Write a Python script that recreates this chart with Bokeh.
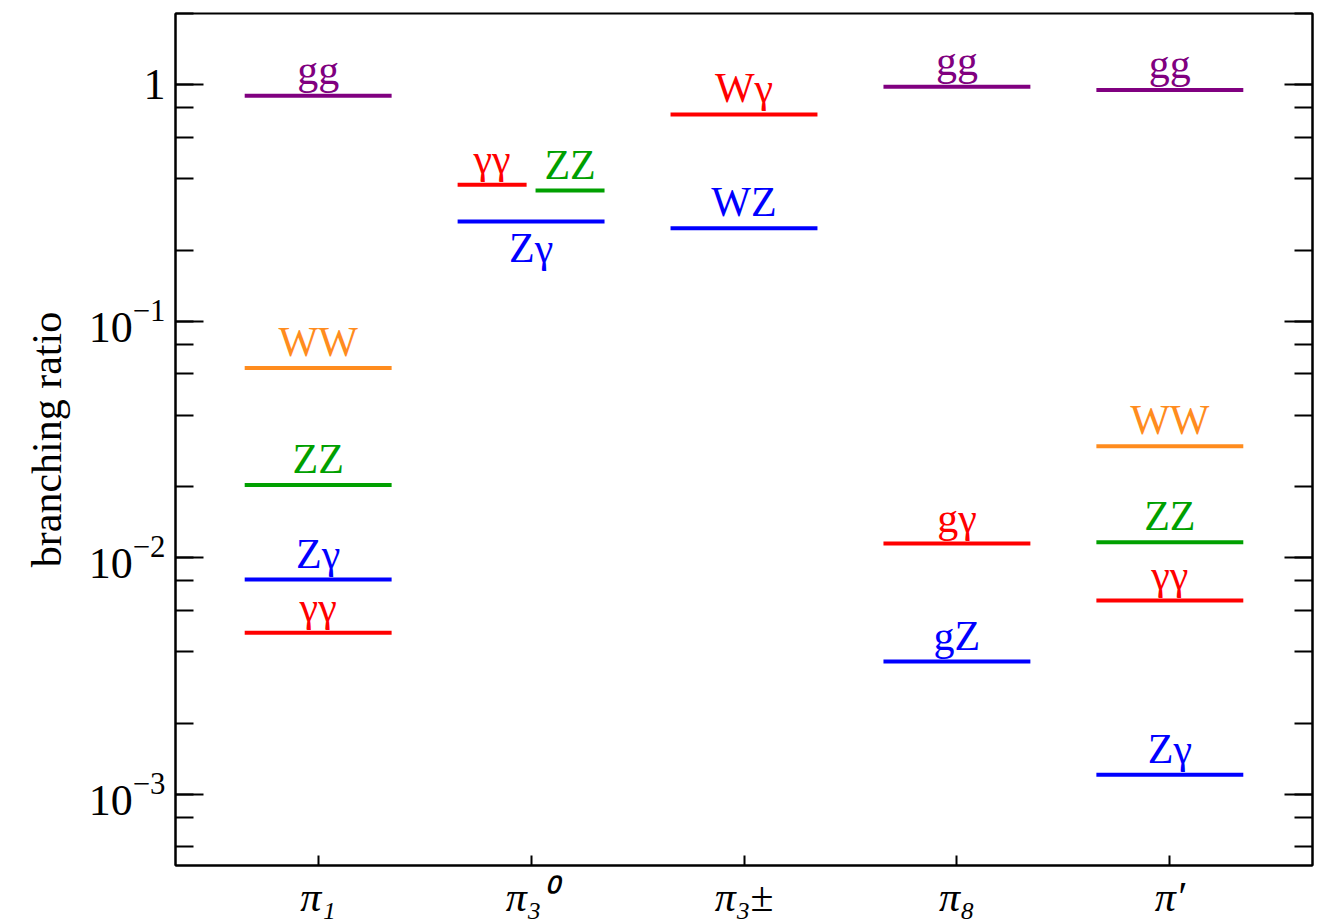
from bokeh.plotting import figure
from bokeh.models import (ColumnDataSource, LogAxis, LogTicker, LogTickFormatter,
                          FixedTicker, CustomJSTickFormatter)
from bokeh.core.properties import value
from bokeh.embed import file_html
from bokeh.resources import INLINE

# ---- data ----
categories = ["π₁", "π₃⁰", "π₃±", "π₈", "π′"]

pi1_channels = ["gg", "WW", "ZZ", "Zγ", "γγ"]
pi1_values = [0.899, 0.0635, 0.0203, 0.00809, 0.00482]

pi30_channels = ["γγ", "ZZ", "Zγ"]
pi30_values = [0.378, 0.357, 0.264]

pi3pm_channels = ["Wγ", "WZ"]
pi3pm_values = [0.749, 0.247]

pi8_channels = ["gg", "gγ", "gZ"]
pi8_values = [0.981, 0.01148, 0.00364]

pip_channels = ["gg", "WW", "ZZ", "γγ", "Zγ"]
pip_values = [0.950, 0.0296, 0.01164, 0.00659, 0.00121]

# ---- styles ----
channel_colors = {
    "gg": "#800080", "WW": "#ff8c1e", "ZZ": "#00a000", "Zγ": "#0000ff",
    "γγ": "#ff0000", "Wγ": "#ff0000", "WZ": "#0000ff", "gγ": "#ff0000", "gZ": "#0000ff",
}
HALF = 0.345
GAP = 0.021
slot_rules = {(1, "γγ"): "left", (1, "ZZ"): "right"}
below_rules = {(1, "Zγ")}

groups = [
    (pi1_channels, pi1_values),
    (pi30_channels, pi30_values),
    (pi3pm_channels, pi3pm_values),
    (pi8_channels, pi8_values),
    (pip_channels, pip_values),
]

rows = dict(x0=[], x1=[], y=[], color=[])
below = dict(xc=[], y=[], name=[], color=[])
above = dict(xc=[], y=[], name=[], color=[])
for i, (chs, vals) in enumerate(groups):
    c = i + 1
    for ch, v in zip(chs, vals):
        slot = slot_rules.get((i, ch), "full")
        if slot == "left":
            a, b = c - HALF, c - GAP
        elif slot == "right":
            a, b = c + GAP, c + HALF
        else:
            a, b = c - HALF, c + HALF
        rows["x0"].append(a); rows["x1"].append(b); rows["y"].append(v)
        rows["color"].append(channel_colors[ch])
        tgt = below if (i, ch) in below_rules else above
        tgt["xc"].append((a + b) / 2); tgt["y"].append(v)
        tgt["name"].append(ch); tgt["color"].append(channel_colors[ch])

src = ColumnDataSource(rows)
src_above = ColumnDataSource(above)
src_below = ColumnDataSource(below)

SERIF = "'Liberation Serif', 'Times New Roman', serif"

p = figure(frame_width=1137, frame_height=852, y_axis_type="log",
           x_range=(0.33, 5.67), y_range=(5e-4, 2.0),
           output_backend="svg", toolbar_location=None,
           min_border_left=175, min_border_top=13, min_border_right=8,
           min_border_bottom=10)
p.grid.visible = False
p.outline_line_color = "black"
p.outline_line_width = 2
p.background_fill_color = "white"
p.border_fill_color = "white"

p.segment(x0="x0", y0="y", x1="x1", y1="y", color="color", line_width=4,
          line_cap="butt", source=src)
p.text(x="xc", y="y", text="name", color="color", source=src_above,
       text_font=value(SERIF), text_font_size="42px", text_align="center",
       text_baseline="bottom", y_offset=-3)
p.text(x="xc", y="y", text="name", color="color", source=src_below,
       text_font=value(SERIF), text_font_size="42px", text_align="center",
       text_baseline="top", y_offset=3)

# left axis
ya = p.yaxis[0]
ya.ticker = LogTicker()
ya.formatter = LogTickFormatter(min_exponent=1)
ya.axis_label = "branching ratio"
ya.axis_label_text_font = SERIF
ya.axis_label_text_font_size = "42px"
ya.axis_label_text_font_style = "normal"
ya.axis_label_text_color = "black"
ya.axis_label_standoff = 16
ya.major_label_text_font = SERIF
ya.major_label_text_font_size = "44px"
ya.major_label_text_color = "black"
ya.major_label_standoff = 10
ya.major_tick_in = 28
ya.major_tick_out = 0
ya.minor_tick_in = 18
ya.minor_tick_out = 0
ya.axis_line_width = 2
ya.major_tick_line_width = 2
ya.minor_tick_line_width = 2

# right axis (ticks only)
ra = LogAxis(ticker=LogTicker(), formatter=CustomJSTickFormatter(code="return ''"))
ra.major_tick_in = 28
ra.major_tick_out = 0
ra.minor_tick_in = 18
ra.minor_tick_out = 0
ra.axis_line_width = 2
ra.major_tick_line_width = 2
ra.minor_tick_line_width = 2
ra.major_label_standoff = 0
p.add_layout(ra, "right")

# bottom axis
xa = p.xaxis[0]
xa.ticker = FixedTicker(ticks=[1, 2, 3, 4, 5])
xa.major_label_overrides = {i + 1: c for i, c in enumerate(categories)}
xa.major_label_text_font = SERIF
xa.major_label_text_font_size = "42px"
xa.major_label_text_font_style = "italic"
xa.major_label_text_color = "black"
xa.major_label_standoff = 8
xa.major_tick_in = 10
xa.major_tick_out = 0
xa.minor_tick_in = 0
xa.minor_tick_out = 0
xa.axis_line_width = 2
xa.major_tick_line_width = 2

open("out.html", "w").write(file_html(p, INLINE))
